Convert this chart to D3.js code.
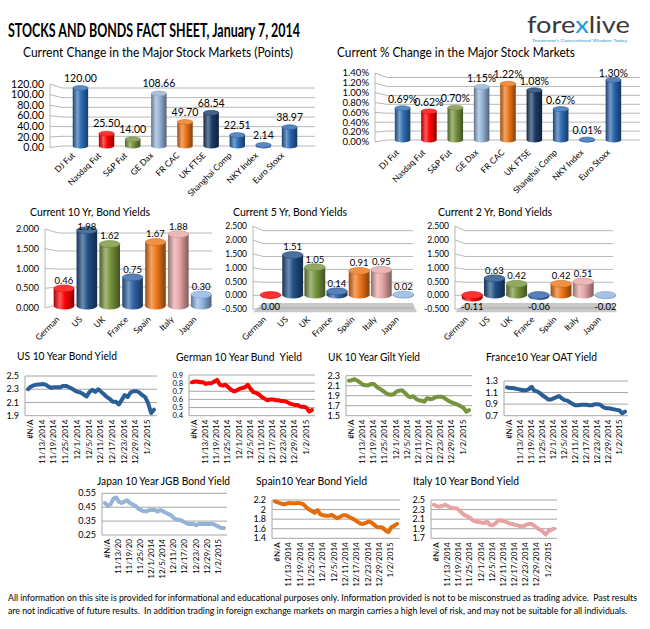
<!DOCTYPE html>
<html>
<head>
<meta charset="utf-8">
<script src="https://cdn.jsdelivr.net/npm/d3@7"></script>
<style>
  body { margin: 0; background: #fff; overflow: hidden; }
  svg { display: block; }
  text { font-family: Lato, "Open Sans", sans-serif; fill: #000; white-space: pre; }
</style>
</head>
<body>
<svg id="sheet" width="650" height="629"></svg>
<script>
// ---------- data ----------
const stockMarkets = ['DJ Fut', 'Nasdaq Fut', 'S&P Fut', 'GE Dax', 'FR CAC', 'UK FTSE', 'Shanghai Comp', 'NKY Index', 'Euro Stoxx'];
const pointChange  = [120.00, 25.50, 14.00, 108.66, 49.70, 68.54, 22.51, 2.14, 38.97];
const pctChange    = [0.69, 0.62, 0.70, 1.15, 1.22, 1.08, 0.67, 0.01, 1.30];

const bondCountries = ['German', 'US', 'UK', 'France', 'Spain', 'Italy', 'Japan'];
const yield10y = [0.46, 1.98, 1.62, 0.75, 1.67, 1.88, 0.30];
const yield5y  = [0.00, 1.51, 1.05, 0.14, 0.91, 0.95, 0.02];
const yield2y  = [-0.11, 0.63, 0.42, -0.06, 0.42, 0.51, -0.02];

const pointTicks = [0, 20, 40, 60, 80, 100, 120];
const pctTicks   = [0, 0.2, 0.4, 0.6, 0.8, 1.0, 1.2, 1.4];
const y10Ticks   = [0, 0.5, 1, 1.5, 2];
const y5Ticks    = [-0.5, 0, 0.5, 1, 1.5, 2, 2.5];

const yieldDates = ['#N/A',
  '11/10/2014', '11/11/2014', '11/12/2014', '11/13/2014', '11/14/2014', '11/17/2014', '11/18/2014', '11/19/2014',
  '11/20/2014', '11/21/2014', '11/24/2014', '11/25/2014', '11/26/2014', '11/27/2014', '11/28/2014', '12/1/2014',
  '12/2/2014', '12/3/2014', '12/4/2014', '12/5/2014', '12/8/2014', '12/9/2014', '12/10/2014', '12/11/2014',
  '12/12/2014', '12/15/2014', '12/16/2014', '12/17/2014', '12/18/2014', '12/19/2014', '12/22/2014', '12/23/2014',
  '12/24/2014', '12/25/2014', '12/26/2014', '12/29/2014', '12/30/2014', '12/31/2014', '1/1/2015', '1/2/2015',
  '1/5/2015', '1/6/2015', '1/7/2015'];

const usYield = [2.30, 2.34, 2.36, 2.37, 2.37, 2.38, 2.37, 2.34, 2.32, 2.33, 2.33, 2.33, 2.35, 2.35, 2.33,
  2.31, 2.28, 2.26, 2.25, 2.22, 2.19, 2.26, 2.29, 2.26, 2.30, 2.26, 2.22, 2.18, 2.15, 2.11, 2.11, 2.07,
  2.14, 2.21, 2.18, 2.25, 2.27, 2.27, 2.25, 2.21, 2.18, 2.09, 1.94, 1.99];
const deYield = [0.81, 0.82, 0.82, 0.81, 0.81, 0.79, 0.80, 0.80, 0.82, 0.84, 0.78, 0.77, 0.78, 0.75, 0.72,
  0.70, 0.71, 0.73, 0.74, 0.75, 0.78, 0.73, 0.69, 0.68, 0.66, 0.63, 0.61, 0.59, 0.60, 0.60, 0.59, 0.59,
  0.58, 0.58, 0.57, 0.55, 0.54, 0.53, 0.53, 0.51, 0.51, 0.50, 0.45, 0.47];
const ukYield = [2.20, 2.21, 2.23, 2.20, 2.16, 2.12, 2.11, 2.11, 2.14, 2.13, 2.07, 2.04, 2.00, 1.96, 1.93,
  1.92, 1.93, 1.98, 2.00, 2.01, 1.96, 1.90, 1.87, 1.89, 1.84, 1.81, 1.80, 1.78, 1.85, 1.83, 1.84, 1.87,
  1.88, 1.88, 1.86, 1.82, 1.79, 1.76, 1.74, 1.72, 1.69, 1.66, 1.58, 1.61];
const frYield = [1.19, 1.18, 1.18, 1.17, 1.16, 1.15, 1.14, 1.14, 1.16, 1.20, 1.13, 1.12, 1.09, 1.05, 1.02,
  0.98, 0.98, 1.00, 1.02, 1.04, 1.00, 0.97, 0.96, 0.93, 0.90, 0.88, 0.88, 0.89, 0.89, 0.89, 0.88, 0.88,
  0.90, 0.90, 0.89, 0.85, 0.83, 0.83, 0.82, 0.81, 0.80, 0.79, 0.74, 0.77];
const jpYield = [0.48, 0.46, 0.47, 0.51, 0.52, 0.49, 0.48, 0.49, 0.50, 0.48, 0.47, 0.46, 0.44, 0.43, 0.42,
  0.42, 0.43, 0.43, 0.43, 0.42, 0.43, 0.42, 0.41, 0.40, 0.39, 0.37, 0.36, 0.36, 0.35, 0.34, 0.33, 0.33,
  0.33, 0.32, 0.33, 0.33, 0.33, 0.33, 0.33, 0.33, 0.32, 0.31, 0.30, 0.30];
const esYield = [2.17, 2.15, 2.13, 2.11, 2.12, 2.14, 2.13, 2.13, 2.14, 2.13, 2.11, 2.05, 2.00, 1.97, 1.93,
  1.99, 1.90, 1.88, 1.87, 1.87, 1.89, 1.85, 1.82, 1.85, 1.88, 1.88, 1.85, 1.82, 1.79, 1.75, 1.71, 1.70,
  1.72, 1.75, 1.73, 1.68, 1.63, 1.63, 1.62, 1.56, 1.53, 1.63, 1.66, 1.70];
const itYield = [2.40, 2.37, 2.36, 2.38, 2.40, 2.37, 2.34, 2.33, 2.33, 2.29, 2.23, 2.18, 2.16, 2.12, 2.07,
  2.05, 2.04, 2.03, 2.02, 2.05, 1.98, 1.97, 2.01, 2.07, 2.07, 2.06, 2.04, 2.01, 2.00, 1.98, 1.97, 1.95,
  1.95, 1.98, 2.00, 2.00, 1.96, 1.91, 1.88, 1.84, 1.78, 1.85, 1.88, 1.90];

const usTicks = [1.9, 2.1, 2.3, 2.5];
const deTicks = [0.4, 0.5, 0.6, 0.7, 0.8, 0.9];
const ukTicks = [1.5, 1.7, 1.9, 2.1, 2.3];
const frTicks = [0.7, 0.9, 1.1, 1.3];
const jpTicks = [0.25, 0.35, 0.45, 0.55];
const esTicks = [1.4, 1.6, 1.8, 2, 2.2];
const itTicks = [1.7, 1.9, 2.1, 2.3, 2.5];

// ---------- styles ----------
const stockColors = ['#2e6db4', '#ff0000', '#77933c', '#95b3d7', '#ee7518', '#1b3c66', '#2e6db4', '#2e6db4', '#2a64ad'];
const bondColors  = ['#ff0000', '#1f4e85', '#77933c', '#2e62a6', '#ee7518', '#e6a6a6', '#8db4e2'];
const GRID = '#a6a6a6';

const svg  = d3.select('#sheet');
const defs = svg.append('defs');
svg.append('rect').attr('width', 650).attr('height', 629).attr('fill', '#fff');

let gradCount = 0;
function cylinderFill(color) {
  const id = 'cyl' + (gradCount++);
  const lg = defs.append('linearGradient').attr('id', id)
    .attr('x1', 0).attr('x2', 1).attr('y1', 0).attr('y2', 0);
  const dark  = d3.interpolateRgb(color, '#000');
  const light = d3.interpolateRgb(color, '#fff');
  [[0, dark(0.35)], [0.3, light(0.35)], [0.55, color], [1, dark(0.45)]]
    .forEach(([o, c]) => lg.append('stop').attr('offset', o).attr('stop-color', c));
  return `url(#${id})`;
}

function cylinder(g, cx, w, yA, yB, ry, color) {
  const top = Math.min(yA, yB), bot = Math.max(yA, yB);
  g.append('path')
    .attr('d', `M${cx - w / 2},${top}V${bot}A${w / 2},${ry} 0 0 0 ${cx + w / 2},${bot}V${top}Z`)
    .attr('fill', cylinderFill(color));
  g.append('ellipse')
    .attr('cx', cx).attr('cy', top).attr('rx', w / 2).attr('ry', ry)
    .attr('fill', d3.interpolateRgb(color, '#fff')(0.2))
    .attr('stroke', d3.interpolateRgb(color, '#000')(0.15)).attr('stroke-width', 0.5);
}

function title(txt, x, y, size, len, weight) {
  svg.append('text').attr('x', x).attr('y', y)
    .attr('font-size', size).attr('font-weight', weight || 'normal')
    .attr('textLength', len).attr('lengthAdjust', 'spacingAndGlyphs')
    .text(txt);
}

// 3D column chart (Excel style)
function columnChart(c) {
  const g = svg.append('g');
  const x = d3.scaleBand().domain(c.names).range(c.xRange).padding(c.padding);
  const yFront = d3.scaleLinear().domain(c.domain).range(c.front);
  const yBack  = d3.scaleLinear().domain(c.domain).range(c.back);
  const yBar   = d3.scaleLinear().domain(c.domain).range(c.bar);
  const lo = c.domain[0];

  if (c.grayFloor) {
    g.append('path')
      .attr('d', `M${c.wallX + c.depth},${yBack(lo) - 5}H${c.gridEnd}L${c.gridEnd + 4},${yFront(lo) + 3}H${c.wallX}Z`)
      .attr('fill', '#c8c8c8');
  }

  c.ticks.forEach(t => {
    g.append('path')
      .attr('d', `M${c.wallX},${yFront(t)}L${c.wallX + c.depth},${yBack(t)}H${c.gridEnd}`)
      .attr('fill', 'none').attr('stroke', GRID).attr('stroke-width', 0.8);
    g.append('text')
      .attr('x', c.wallX - 6).attr('y', yFront(t)).attr('dy', '0.35em')
      .attr('text-anchor', 'end').attr('font-size', c.tickSize)
      .text(c.tickFmt(t));
  });
  g.append('line')
    .attr('x1', c.wallX).attr('x2', c.wallX)
    .attr('y1', yFront(c.domain[1])).attr('y2', yFront(lo))
    .attr('stroke', GRID).attr('stroke-width', 0.8);

  const bw = x.bandwidth();
  c.values.forEach((v, i) => {
    const cx = x(c.names[i]) + bw / 2;
    cylinder(g, cx, bw, yBar(0), yBar(v), c.ry, c.colors[i]);
    const ly = v > 0 ? Math.max(yBar(v) - c.lift, c.labelMin) : yFront(lo) - 3;
    g.append('text')
      .attr('x', cx).attr('y', ly).attr('dy', '0.35em')
      .attr('text-anchor', 'middle').attr('font-size', c.valueSize)
      .text(c.valueFmt(v));
    const lx = cx - c.nameDx;
    g.append('text')
      .attr('x', lx).attr('y', c.nameY)
      .attr('transform', `rotate(-45,${lx},${c.nameY})`)
      .attr('text-anchor', 'end').attr('font-size', c.nameSize)
      .text(c.names[i]);
  });
}

// line chart (Excel 2D line)
function lineChart(c) {
  const g = svg.append('g');
  const idx = d3.range(yieldDates.length);
  const x = d3.scalePoint().domain(idx).range([c.x0 + 3, c.x1 - 3]);
  const y = d3.scaleLinear().domain([c.ticks[0], c.ticks[c.ticks.length - 1]]).range([c.yBot, c.yTop]);

  title(c.title, c.tx, c.ty, 11.5, c.tlen);

  c.ticks.forEach(t => {
    g.append('line').attr('x1', c.x0).attr('x2', c.x1)
      .attr('y1', y(t)).attr('y2', y(t))
      .attr('stroke', GRID).attr('stroke-width', 1);
    g.append('text')
      .attr('x', c.x0 - 6).attr('y', y(t)).attr('dy', '0.35em')
      .attr('text-anchor', 'end').attr('font-size', c.tickSize || 9)
      .text(String(+t.toFixed(2)));
  });
  g.append('line').attr('x1', c.x0).attr('x2', c.x0)
    .attr('y1', c.yTop).attr('y2', c.yBot)
    .attr('stroke', GRID);

  idx.filter(i => i % 4 === 0).forEach(i => {
    let lab = yieldDates[i];
    if (c.truncate && lab.length > 9) lab = lab.slice(0, 8);
    const lx = x(i) + 5, ly = c.yBot + 4;
    g.append('text')
      .attr('x', lx).attr('y', ly)
      .attr('transform', `rotate(-90,${lx},${ly})`)
      .attr('text-anchor', 'end').attr('font-size', 8)
      .text(lab);
  });

  g.append('path')
    .datum(c.values)
    .attr('d', d3.line().x((d, i) => x(i)).y(d => y(d)))
    .attr('fill', 'none').attr('stroke', c.color)
    .attr('stroke-width', 4).attr('stroke-linejoin', 'round').attr('stroke-linecap', 'round');
}

// ---------- header ----------
svg.append('text')
  .attr('x', 8).attr('y', 37)
  .attr('font-size', 19).attr('font-weight', 'bold')
  .attr('font-family', '"Liberation Sans Narrow", "DejaVu Sans Condensed", sans-serif')
  .attr('textLength', 292).attr('lengthAdjust', 'spacingAndGlyphs')
  .text('STOCKS AND BONDS FACT SHEET, January 7, 2014');

const logo = svg.append('text')
  .attr('x', 527).attr('y', 33)
  .attr('font-size', 24)
  .attr('font-family', '"Liberation Serif", "DejaVu Serif", serif')
  .attr('textLength', 103).attr('lengthAdjust', 'spacingAndGlyphs');
logo.append('tspan').style('fill', '#3a3a3a').text('fore');
logo.append('tspan').style('fill', '#1e9ad6').text('x');
logo.append('tspan').style('fill', '#3a3a3a').text('live');
svg.append('text')
  .attr('x', 532).attr('y', 42)
  .attr('font-size', 4.5)
  .attr('font-family', '"Liberation Serif", serif')
  .attr('textLength', 96).attr('lengthAdjust', 'spacingAndGlyphs')
  .style('fill', '#1e9ad6')
  .text("Tomorrow's Conventional Wisdom Today.");

// ---------- stock charts ----------
title('Current Change in the Major Stock Markets (Points)', 23, 57, 12.5, 270);
columnChart({
  names: stockMarkets, values: pointChange, colors: stockColors,
  domain: [0, 120], ticks: pointTicks,
  front: [147.5, 84], back: [146, 88], bar: [146, 88],
  xRange: [62, 308], padding: 0.41, ry: 2.5,
  wallX: 50, depth: 12, gridEnd: 315,
  tickFmt: v => v.toFixed(2), tickSize: 10.5,
  valueFmt: v => v.toFixed(2), valueSize: 10.5, lift: 10, labelMin: 60,
  nameDx: 5, nameY: 156, nameSize: 8.5
});

title('Current % Change in the Major Stock Markets', 337, 57, 12.5, 238);
columnChart({
  names: stockMarkets, values: pctChange, colors: stockColors,
  domain: [0, 1.4], ticks: pctTicks,
  front: [142, 73], back: [140, 77.5], bar: [140, 75.4],
  xRange: [384, 632], padding: 0.41, ry: 2.5,
  wallX: 375, depth: 12, gridEnd: 640,
  tickFmt: v => v.toFixed(2) + '%', tickSize: 9.5,
  valueFmt: v => v.toFixed(2) + '%', valueSize: 10.5, lift: 9, labelMin: 73,
  nameDx: 3, nameY: 153, nameSize: 8.5
});

// ---------- bond yield charts ----------
title('Current 10 Yr, Bond Yields', 30, 216, 10.5, 120);
columnChart({
  names: bondCountries, values: yield10y, colors: bondColors,
  domain: [0, 2], ticks: y10Ticks,
  front: [308, 229], back: [305, 233], bar: [306, 229.5],
  xRange: [51.4, 213.8], padding: 0.1, ry: 3.5,
  wallX: 45, depth: 13, gridEnd: 212,
  tickFmt: v => v.toFixed(3), tickSize: 9,
  valueFmt: v => v.toFixed(2), valueSize: 9.5, lift: 8, labelMin: 227,
  nameDx: 4, nameY: 320, nameSize: 8.5
});

title('Current 5 Yr, Bond Yields', 233, 216, 10.5, 114);
columnChart({
  names: bondCountries, values: yield5y, colors: bondColors,
  domain: [-0.5, 2.5], ticks: y5Ticks,
  front: [309.3, 226], back: [308, 230.7], bar: [308.25, 228.75],
  xRange: [258.8, 415.2], padding: 0.06, ry: 3.5,
  wallX: 253, depth: 10, gridEnd: 413, grayFloor: true,
  tickFmt: v => v.toFixed(3), tickSize: 8.5,
  valueFmt: v => v.toFixed(2), valueSize: 9.5, lift: 8, labelMin: 227,
  nameDx: 4, nameY: 320, nameSize: 8.5
});

title('Current 2 Yr, Bond Yields', 438, 216, 10.5, 114);
columnChart({
  names: bondCountries, values: yield2y, colors: bondColors,
  domain: [-0.5, 2.5], ticks: y5Ticks,
  front: [309.3, 226], back: [308, 230.7], bar: [308.25, 228.75],
  xRange: [460.5, 617.2], padding: 0.06, ry: 3.5,
  wallX: 455, depth: 10, gridEnd: 613, grayFloor: true,
  tickFmt: v => v.toFixed(3), tickSize: 8.5,
  valueFmt: v => v.toFixed(2), valueSize: 9.5, lift: 8, labelMin: 227,
  nameDx: 4, nameY: 320, nameSize: 8.5
});

// ---------- 10 year yield history ----------
lineChart({ title: 'US 10 Year Bond Yield', tx: 17, ty: 360, tlen: 100,
  values: usYield, ticks: usTicks, color: '#2a5e97',
  x0: 25, x1: 157, yTop: 376, yBot: 415.7 });
lineChart({ title: 'German 10 Year Bund  Yield', tx: 176, ty: 361, tlen: 126,
  values: deYield, ticks: deTicks, color: '#ff0000', tickSize: 7.5,
  x0: 189, x1: 315, yTop: 375, yBot: 415.7 });
lineChart({ title: 'UK 10 Year Gilt Yield', tx: 328, ty: 361, tlen: 92,
  values: ukYield, ticks: ukTicks, color: '#77933c',
  x0: 346, x1: 472, yTop: 375.7, yBot: 415.7 });
lineChart({ title: 'France10 Year OAT Yield', tx: 486, ty: 361, tlen: 111,
  values: frYield, ticks: frTicks, color: '#2a5e97',
  x0: 504, x1: 628, yTop: 381, yBot: 415.7 });
lineChart({ title: 'Japan 10 Year JGB Bond Yield', tx: 97, ty: 485, tlen: 133,
  values: jpYield, ticks: jpTicks, color: '#95b3d7', truncate: true,
  x0: 102, x1: 227, yTop: 493.3, yBot: 535 });
lineChart({ title: 'Spain10 Year Bond Yield', tx: 256, ty: 485, tlen: 111,
  values: esYield, ticks: esTicks, color: '#e46c0a',
  x0: 272, x1: 400, yTop: 500, yBot: 538.3 });
lineChart({ title: 'Italy 10 Year Bond Yield', tx: 413, ty: 485, tlen: 106,
  values: itYield, ticks: itTicks, color: '#e6a3a3',
  x0: 431, x1: 557, yTop: 500, yBot: 538.3 });

// ---------- disclaimer ----------
title('All information on this site is provided for informational and educational purposes only. Information provided is not to be misconstrued as trading advice.  Past results',
  8, 601, 8.6, 629);
title('are not indicative of future results.  In addition trading in foreign exchange markets on margin carries a high level of risk, and may not be suitable for all individuals.',
  8, 614, 8.6, 619);
</script>
</body>
</html>
